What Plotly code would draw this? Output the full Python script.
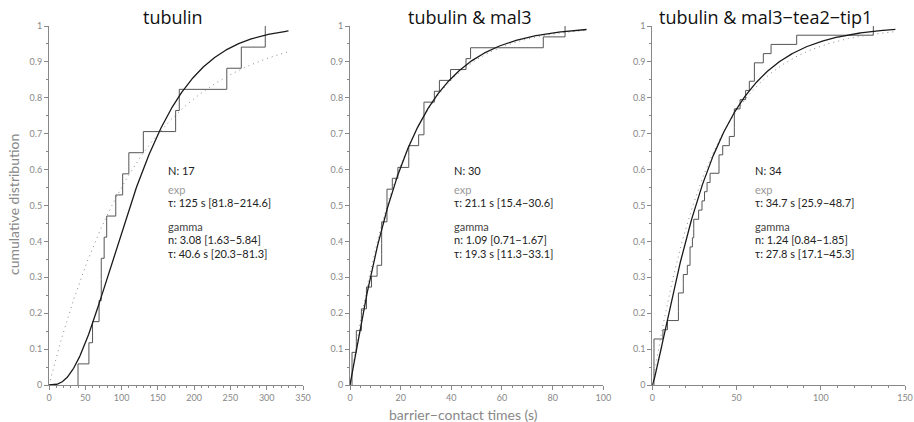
import math
import numpy as np
import plotly.graph_objects as go

W, H = 914, 422

titles = ["tubulin", "tubulin & mal3", "tubulin & mal3\u2212tea2\u2212tip1"]
n_labels = ["N: 17", "N: 30", "N: 34"]

times_tub = [40, 55, 60, 69, 72, 72, 76, 79.5, 92, 101.5, 110, 130, 174.5, 179.5, 245, 265, 298]
times_mal3 = [0.8, 0.8, 0.8, 2.5, 2.5, 4.5, 4.5, 6.5, 6.5, 8.5, 10.7, 12.5, 12.5, 12.5, 12.5,
              14.6, 14.6, 14.6, 16.7, 18.9, 23.2, 23.2, 27.1, 29.2, 29.2, 29.2, 33.3, 35.3,
              39.7, 45.8, 47.6, 76.3, 84.9]
times_tip1 = [1.0, 1.0, 1.0, 1.0, 1.0, 6.3, 9.0, 15.5, 15.5, 15.5, 18.4, 18.4, 20.8, 22.4, 22.4,
              23.8, 24.6, 24.6, 27.5, 29.5, 31.0, 32.5, 34.3, 39.6, 39.6, 41.8, 45.7, 48.7, 48.7,
              48.7, 52.1, 55.4, 57.6, 60.6, 60.6, 65.9, 70.5, 85.7, 131.2]

exp_tau = [125, 21.1, 34.7]
exp_ci = ["81.8\u2212214.6", "15.4\u221230.6", "25.9\u221248.7"]
gamma_n = [3.08, 1.09, 1.24]
gamma_n_ci = ["1.63\u22125.84", "0.71\u22121.67", "0.84\u22121.85"]
gamma_tau = [40.6, 19.3, 27.8]
gamma_tau_ci = ["20.3\u221281.3", "11.3\u221233.1", "17.1\u221245.3"]
curve_end = [330, 93.4, 144.3]

x_max = [350, 100, 150]
x_dtick = [50, 20, 50]
x_minor = [10, 4, 10]

# pixel layout
x_px = [(49, 303), (350, 603.3), (652.3, 905)]
y_px = (26, 385)
title_x = [173, 470, 765]
ann_x = [166, 451.7, 753.3]


def gammainc_reg(a, x):
    if x <= 0:
        return 0.0
    term = 1.0 / a
    s = term
    for k in range(1, 500):
        term *= x / (a + k)
        s += term
        if term < s * 1e-13:
            break
    return s * math.exp(-x + a * math.log(x) - math.lgamma(a))


fig = go.Figure()
FONT = "Lato, 'Open Sans', sans-serif"
TFONT = "'Open Sans', Lato, sans-serif"
step_col = "#555555"

datasets = [times_tub, times_mal3, times_tip1]
for i in range(3):
    xa = "x" if i == 0 else f"x{i+1}"
    ya = "y" if i == 0 else f"y{i+1}"
    t = sorted(datasets[i])
    n = len(t)
    sx = [t[0]] + t
    sy = [0.0] + [(k + 1) / n for k in range(n)]
    tt = np.linspace(0, curve_end[i], 400)
    ye = 1 - np.exp(-tt / exp_tau[i])
    yg = [gammainc_reg(gamma_n[i], v / gamma_tau[i]) for v in tt]
    fig.add_trace(go.Scatter(x=sx, y=sy, mode="lines", line=dict(color=step_col, width=1, shape="hv"),
                             xaxis=xa, yaxis=ya, showlegend=False, hoverinfo="skip"))
    fig.add_trace(go.Scatter(x=tt, y=ye, mode="lines", line=dict(color="#8a8a8a", width=1, dash="1px,4px"),
                             xaxis=xa, yaxis=ya, showlegend=False, hoverinfo="skip"))
    fig.add_trace(go.Scatter(x=tt, y=yg, mode="lines", line=dict(color="#1a1a1a", width=1.3),
                             xaxis=xa, yaxis=ya, showlegend=False, hoverinfo="skip"))

layout = dict(
    width=W, height=H, margin=dict(l=0, r=0, t=0, b=0),
    paper_bgcolor="white", plot_bgcolor="white",
    font=dict(family=FONT, color="#888888", size=9),
)
ydom = [(H - y_px[1]) / H, (H - y_px[0]) / H]
for i in range(3):
    sfx = "" if i == 0 else str(i + 1)
    layout["xaxis" + sfx] = dict(
        domain=[x_px[i][0] / W, x_px[i][1] / W], range=[0, x_max[i]],
        anchor="y" + sfx, showgrid=False, zeroline=False, showline=True,
        linecolor="#888888", linewidth=1, ticks="outside", ticklen=4, tickcolor="#888888",
        dtick=x_dtick[i], tick0=0, tickfont=dict(size=9, color="#888888", family=FONT),
        minor=dict(dtick=x_minor[i], ticks="outside", ticklen=2, tickcolor="#888888", showgrid=False),
        automargin=False, fixedrange=True,
    )
    layout["yaxis" + sfx] = dict(
        domain=ydom, range=[0, 1], anchor="x" + sfx, showgrid=False, zeroline=False,
        showline=True, linecolor="#888888", linewidth=1, ticks="outside", ticklen=4,
        tickcolor="#888888", tickfont=dict(size=9, color="#888888", family=FONT),
        minor=dict(dtick=0.05, ticks="outside", ticklen=2, tickcolor="#888888", showgrid=False),
        automargin=False, fixedrange=True,
        tickvals=[0, 0.1, 0.2, 0.3, 0.4, 0.5, 0.6, 0.7, 0.8, 0.9, 1],
        ticktext=["0", "0.1", "0.2", "0.3", "0.4", "0.5", "0.6", "0.7", "0.8", "0.9", "1"],
    )
fig.update_layout(**layout)

anns = []


def add_text(px, py, text, size, color, xanchor="left", family=FONT):
    anns.append(dict(x=px / W, y=1 - py / H, xref="paper", yref="paper", text=text, showarrow=False,
                     xanchor=xanchor, yanchor="middle", font=dict(size=size, color=color, family=family)))


for i in range(3):
    add_text(title_x[i], 17, titles[i], 18, "#111111", "center", TFONT)
    ax = ann_x[i]
    add_text(ax, 170, n_labels[i], 11, "#222222")
    add_text(ax, 189.5, "exp", 11, "#999999")
    add_text(ax, 202.5, f"\u03c4: {exp_tau[i]:g} s [{exp_ci[i]}]", 11, "#222222")
    add_text(ax, 226.5, "gamma", 11, "#444444")
    add_text(ax, 239, f"n: {gamma_n[i]:.2f} [{gamma_n_ci[i]}]", 11, "#222222")
    add_text(ax, 253, f"\u03c4: {gamma_tau[i]:g} s [{gamma_tau_ci[i]}]", 11, "#222222")

add_text(463, 414, "barrier\u2212contact times (s)", 14, "#888888", "center")
anns.append(dict(x=14 / W, y=1 - 205 / H, xref="paper", yref="paper", text="cumulative distribution",
                 showarrow=False, textangle=-90, xanchor="center", yanchor="middle",
                 font=dict(size=14, color="#888888", family=FONT)))
fig.update_layout(annotations=anns)

fig.write_html("out.html")
